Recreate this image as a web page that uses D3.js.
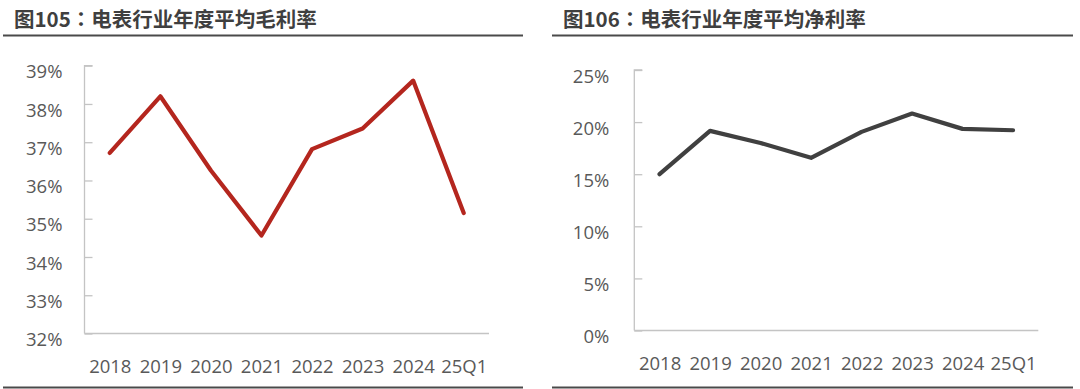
<!DOCTYPE html>
<html><head><meta charset="utf-8">
<script src="https://cdn.jsdelivr.net/npm/d3@7"></script>
<style>
html,body{margin:0;padding:0;background:#fff;}
svg{display:block;}
</style></head>
<body>
<script>
const categories = ["2018","2019","2020","2021","2022","2023","2024","25Q1"];
const grossMargin = [36.72, 38.2, 36.26, 34.56, 36.82, 37.36, 38.61, 35.15];
const netMargin = [15.0, 19.16, 18.0, 16.57, 19.06, 20.82, 19.35, 19.22];
const grossTicks = [32,33,34,35,36,37,38,39];
const netTicks = [0,5,10,15,20,25];
const titles = ["图105：电表行业年度平均毛利率", "图106：电表行业年度平均净利率"];

const W = 1080, H = 389;
const svg = d3.select("body").append("svg").attr("width", W).attr("height", H);
const titleFont = "'Noto Sans CJK TC','Noto Sans CJK SC',sans-serif";
const numFont = "'Open Sans','Noto Sans',sans-serif";

const panels = [
  {title: titles[0], titleX: 14, lineX0: 3, lineX1: 523, axisX0: 84.5, axisX1: 489,
   yTop: 65.7, yBot: 333.5, domain: [32,39], ticks: grossTicks, values: grossMargin, color: "#b4261e", labelGap: 22},
  {title: titles[1], titleX: 563, lineX0: 552, lineX1: 1073, axisX0: 634.3, axisX1: 1038.3,
   yTop: 70, yBot: 330.5, domain: [0,25], ticks: netTicks, values: netMargin, color: "#404040", labelGap: 25}
];

panels.forEach(p => {
  const g = svg.append("g");
  g.append("text").attr("x", p.titleX).attr("y", 27)
    .attr("font-family", titleFont).attr("font-size", 20.5).attr("font-weight", "bold")
    .attr("fill", "#3f3f3f").text(p.title);
  g.append("line").attr("x1", p.lineX0).attr("x2", p.lineX1).attr("y1", 35.5).attr("y2", 35.5)
    .attr("stroke", "#4a4a4a").attr("stroke-width", 2);
  g.append("line").attr("x1", p.lineX0).attr("x2", p.lineX1).attr("y1", 387.5).attr("y2", 387.5)
    .attr("stroke", "#4a4a4a").attr("stroke-width", 2);

  const x = d3.scalePoint().domain(categories).range([p.axisX0, p.axisX1]).padding(0.5);
  const y = d3.scaleLinear().domain(p.domain).range([p.yBot, p.yTop]);

  const yAxis = d3.axisRight(y).tickValues(p.ticks).tickSize(8).tickFormat(d => d + "%");
  const ya = g.append("g").attr("transform", `translate(${p.axisX0},0)`).call(yAxis);
  ya.select(".domain").attr("stroke", "#c4c4c4").attr("stroke-width", 1.3)
    .attr("d", `M8,${p.yTop}H0V${p.yBot}`);
  ya.selectAll(".tick line").attr("stroke", "#c4c4c4").attr("stroke-width", 1.3);
  ya.selectAll(".tick text").attr("x", -p.labelGap).attr("dy", "0.66em")
    .attr("text-anchor", "end").attr("font-family", numFont).attr("font-size", 18.5).attr("fill", "#595959");

  const xAxis = d3.axisBottom(x).tickSize(0).tickPadding(26);
  const xa = g.append("g").attr("transform", `translate(0,${p.yBot})`).call(xAxis);
  xa.select(".domain").attr("stroke", "#c4c4c4").attr("stroke-width", 1.3)
    .attr("d", `M${p.axisX0},0H${p.axisX1}`);
  xa.selectAll(".tick text").attr("font-family", numFont).attr("font-size", 18.5).attr("fill", "#595959");

  const line = d3.line().x((d,i) => x(categories[i])).y(d => y(d));
  g.append("path").datum(p.values).attr("d", line).attr("fill", "none")
    .attr("stroke", p.color).attr("stroke-width", 4.2)
    .attr("stroke-linejoin", "round").attr("stroke-linecap", "round");
});
</script>
</body></html>
